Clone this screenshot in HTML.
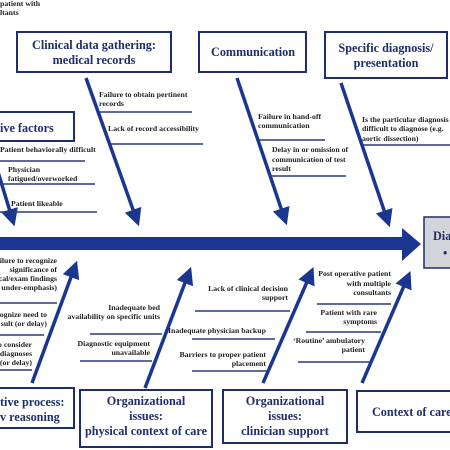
<!DOCTYPE html>
<html><head><meta charset="utf-8"><style>
html,body{margin:0;padding:0;background:#fff;}
svg{display:block;}
.b{font-family:"Liberation Serif",serif;font-weight:bold;fill:#1f2d6b;font-size:12.2px;}
.l{font-family:"Liberation Serif",serif;font-weight:bold;fill:#222;font-size:7.8px;}
.box{fill:#fff;stroke:#1f2d6b;stroke-width:2;}
.ln{stroke:#2a3a80;stroke-width:1.5;}
.ar{stroke:#1b3690;stroke-width:3.5;}
</style></head><body>
<svg width="450" height="450" viewBox="0 0 450 450" xmlns="http://www.w3.org/2000/svg">
<defs><marker id="h" markerWidth="5" markerHeight="5" refX="2.5" refY="2.5" orient="auto" markerUnits="strokeWidth"><path d="M0,0 L5,2.5 L0,5 z" fill="#1b3690"/></marker></defs>
<text class="l" x="0" y="6">patient with</text>
<text class="l" x="0" y="15">ltants</text>
<rect x="0" y="237" width="405" height="13" fill="#1b3690"/>
<path d="M402,228 L421,244 L402,261 z" fill="#1b3690"/>
<rect x="424" y="217" width="30" height="51" fill="#d3d4da" stroke="#1f2d6b" stroke-width="1.5"/>
<text class="b" x="433" y="240">Dia</text>
<text class="b" x="443" y="257">•</text>
<rect class="box" x="17" y="32" width="154" height="40"/>
<text class="b" x="94" y="49" text-anchor="middle">Clinical data gathering:</text>
<text class="b" x="94" y="64" text-anchor="middle">medical records</text>
<rect class="box" x="199" y="32" width="107" height="40"/>
<text class="b" x="253" y="56" text-anchor="middle">Communication</text>
<rect class="box" x="325" y="32" width="122" height="46"/>
<text class="b" x="386" y="52" text-anchor="middle">Specific diagnosis/</text>
<text class="b" x="386" y="67" text-anchor="middle">presentation</text>
<rect class="box" x="-5" y="112" width="79" height="29"/>
<text class="b" x="0" y="132">ive factors</text>
<line class="ar" x1="86" y1="78" x2="136" y2="218" marker-end="url(#h)"/>
<line class="ar" x1="237" y1="78" x2="284" y2="217" marker-end="url(#h)"/>
<line class="ar" x1="341" y1="83" x2="387" y2="219" marker-end="url(#h)"/>
<line class="ar" x1="-2" y1="172" x2="12" y2="218" marker-end="url(#h)"/>
<text class="l" x="99" y="97">Failure to obtain pertinent</text>
<text class="l" x="99" y="106">records</text>
<line class="ln" x1="100" y1="112" x2="192" y2="112"/>
<text class="l" x="108" y="131">Lack of record accessibility</text>
<line class="ln" x1="110" y1="144" x2="203" y2="144"/>
<text class="l" x="0" y="152">Patient behaviorally difficult</text>
<line class="ln" x1="0" y1="161" x2="85" y2="161"/>
<text class="l" x="8" y="172">Physician</text>
<text class="l" x="8" y="181">fatigued/overworked</text>
<line class="ln" x1="0" y1="184" x2="95" y2="184"/>
<text class="l" x="11" y="206">Patient likeable</text>
<line class="ln" x1="0" y1="212" x2="97" y2="212"/>
<text class="l" x="258" y="119">Failure in hand-off</text>
<text class="l" x="258" y="128">communication</text>
<line class="ln" x1="257" y1="140" x2="325" y2="140"/>
<text class="l" x="272" y="152">Delay in or omission of</text>
<text class="l" x="272" y="162">communication of test</text>
<text class="l" x="272" y="171">result</text>
<line class="ln" x1="270" y1="176" x2="346" y2="176"/>
<text class="l" x="362" y="122">Is the particular diagnosis</text>
<text class="l" x="362" y="131">difficult to diagnose (e.g.</text>
<text class="l" x="362" y="141">aortic dissection)</text>
<line class="ln" x1="362" y1="145" x2="450" y2="145"/>
<line class="ar" x1="32" y1="383" x2="74" y2="269" marker-end="url(#h)"/>
<line class="ar" x1="145" y1="388" x2="188" y2="275" marker-end="url(#h)"/>
<line class="ar" x1="263" y1="383" x2="310" y2="275" marker-end="url(#h)"/>
<line class="ar" x1="362" y1="383" x2="407" y2="279" marker-end="url(#h)"/>
<g text-anchor="end">
<text class="l" x="57" y="263">ilure to recognize</text>
<text class="l" x="57" y="272">significance of</text>
<text class="l" x="57" y="281">cal/exam findings</text>
<text class="l" x="57" y="290">under-emphasis)</text>
<text class="l" x="47" y="317">ognize need to</text>
<text class="l" x="47" y="326">sult (or delay)</text>
<text class="l" x="32" y="347">o consider</text>
<text class="l" x="32" y="356">diagnoses</text>
<text class="l" x="32" y="365">(or delay)</text>
<text class="l" x="160" y="310">Inadequate bed</text>
<text class="l" x="160" y="319">availability on specific units</text>
<text class="l" x="150" y="346">Diagnostic equipment</text>
<text class="l" x="150" y="355">unavailable</text>
<text class="l" x="288" y="291">Lack of clinical decision</text>
<text class="l" x="288" y="300">support</text>
<text class="l" x="266" y="357">Barriers to proper patient</text>
<text class="l" x="266" y="366">placement</text>
<text class="l" x="391" y="276">Post operative patient</text>
<text class="l" x="391" y="286">with multiple</text>
<text class="l" x="391" y="295">consultants</text>
<text class="l" x="377" y="315">Patient with rare</text>
<text class="l" x="377" y="324">symptoms</text>
<text class="l" x="365" y="343">‘Routine’ ambulatory</text>
<text class="l" x="365" y="352">patient</text>
</g>
<text class="l" x="168" y="333">Inadequate physician backup</text>
<line class="ln" x1="0" y1="303" x2="57" y2="303"/>
<line class="ln" x1="0" y1="335" x2="44" y2="335"/>
<line class="ln" x1="0" y1="370" x2="32" y2="370"/>
<line class="ln" x1="90" y1="334" x2="162" y2="334"/>
<line class="ln" x1="80" y1="361" x2="152" y2="361"/>
<line class="ln" x1="195" y1="311" x2="290" y2="311"/>
<line class="ln" x1="192" y1="339" x2="275" y2="339"/>
<line class="ln" x1="192" y1="371" x2="270" y2="371"/>
<line class="ln" x1="317" y1="304" x2="391" y2="304"/>
<line class="ln" x1="306" y1="332" x2="381" y2="332"/>
<line class="ln" x1="298" y1="362" x2="370" y2="362"/>
<rect class="box" x="-5" y="388" width="79" height="40"/>
<text class="b" x="0" y="406">tive process:</text>
<text class="b" x="0" y="421">v reasoning</text>
<rect class="box" x="80" y="390" width="132" height="57"/>
<text class="b" x="146" y="405" text-anchor="middle">Organizational</text>
<text class="b" x="146" y="420" text-anchor="middle">issues:</text>
<text class="b" x="146" y="435" text-anchor="middle">physical context of care</text>
<rect class="box" x="223" y="390" width="124" height="53"/>
<text class="b" x="285" y="405" text-anchor="middle">Organizational</text>
<text class="b" x="285" y="420" text-anchor="middle">issues:</text>
<text class="b" x="285" y="435" text-anchor="middle">clinician support</text>
<rect class="box" x="357" y="391" width="100" height="41"/>
<text class="b" x="372" y="416">Context of care</text>
</svg>
</body></html>
